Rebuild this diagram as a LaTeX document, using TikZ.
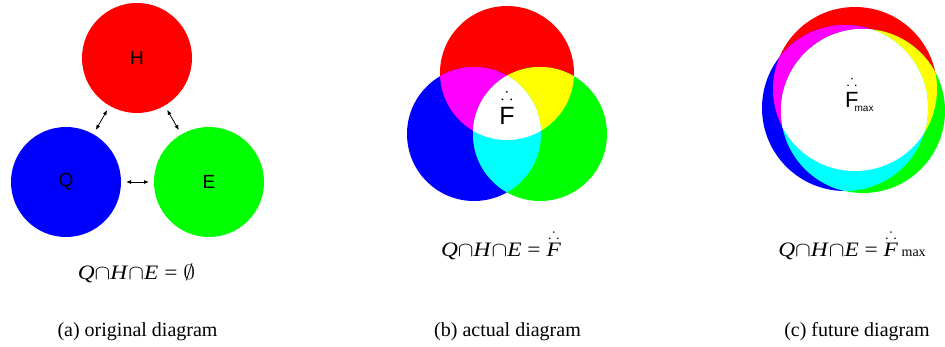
\documentclass[tikz,border=0pt]{standalone}
\usepackage{fontspec}
\setmainfont{Liberation Serif}
\setsansfont{Liberation Sans}
\usepackage{amssymb}
\usetikzlibrary{arrows.meta}
\definecolor{cR}{RGB}{255,0,0}
\definecolor{cG}{RGB}{0,255,0}
\definecolor{cB}{RGB}{0,0,255}
\definecolor{cM}{RGB}{255,0,255}
\definecolor{cY}{RGB}{255,255,0}
\definecolor{cC}{RGB}{0,255,255}
% letter with three dots (therefore sign) above it
\newcommand{\dotted}[2]{$\stackrel{\raisebox{#1}{$\scriptstyle\therefore$}}{\mbox{#2}}$}
\newcommand{\wide}[1]{\scalebox{1.14}[1]{#1}}
\tikzset{
  setnode/.style={circle, minimum size=110pt, inner sep=0pt, outer sep=0pt,
    font=\sffamily\fontsize{19}{19}\selectfont},
  link/.style={{Latex[length=5pt,width=4pt]}-{Latex[length=5pt,width=4pt]},
    line width=0.8pt, shorten <=5pt, shorten >=5pt},
  formula/.style={anchor=base, inner sep=0pt, font=\fontsize{20.5}{20.5}\selectfont},
  caption/.style={anchor=base, inner sep=0pt, font=\fontsize{20}{20}\selectfont},
  bigF/.style={anchor=base, inner sep=0pt, font=\sffamily\fontsize{25}{25}\selectfont},
  maxF/.style={anchor=base west, inner sep=0pt, font=\sffamily\fontsize{22}{22}\selectfont},
}
\begin{document}
\begin{tikzpicture}[x=1pt,y=-1pt]
\useasboundingbox (0,0) rectangle (945,347);
\fill[white] (0,0) rectangle (945,347);

% ---------- (a) original diagram ----------
\node[setnode, fill=cR] (H) at (137,58) {H};
\node[setnode, fill=cB] (Q) at (66,182) {Q};
\node[setnode, fill=cG] (E) at (209,182) {E};
\draw[link] (H) -- (Q);
\draw[link] (H) -- (E);
\draw[link] (Q) -- (E);
\node[formula] (fa) at (136.5,280) {\wide{\textit{Q}$\cap$\textit{H}$\cap$\textit{E} = $\emptyset$}};

% ---------- (b) actual diagram ----------
\coordinate (bR) at (507,73);
\coordinate (bB) at (474,134);
\coordinate (bG) at (540,134);
\fill[cR] (bR) circle (67pt);
\fill[cB] (bB) circle (67pt);
\fill[cG] (bG) circle (67pt);
\begin{scope}
  \clip (bR) circle (67pt);
  \fill[cM] (bB) circle (67pt);
  \fill[cY] (bG) circle (67pt);
\end{scope}
\begin{scope}
  \clip (bB) circle (67pt);
  \fill[cC] (bG) circle (67pt);
  \clip (bR) circle (67pt);
  \fill[white] (bG) circle (67pt);
\end{scope}
\node[bigF] (Fb) at (507,125) {\dotted{3pt}{F}};
\node[formula] (fb) at (501,257) {\wide{\textit{Q}$\cap$\textit{H}$\cap$\textit{E} = \dotted{1pt}{\textit{F}}}};

% ---------- (c) future diagram ----------
\coordinate (cRc) at (855,89);
\coordinate (cBc) at (845,108);
\coordinate (cGc) at (863,111);
\fill[cR] (cRc) circle (82pt);
\fill[cB] (cBc) circle (83pt);
\fill[cG] (cGc) circle (82pt);
\begin{scope}
  \clip (cRc) circle (82pt);
  \fill[cM] (cBc) circle (83pt);
  \fill[cY] (cGc) circle (82pt);
\end{scope}
\begin{scope}
  \clip (cBc) circle (83pt);
  \fill[cC] (cGc) circle (82pt);
  \clip (cRc) circle (82pt);
  \fill[white] (cGc) circle (82pt);
\end{scope}
\node[maxF] (Fc) at (845,108) {\dotted{2.5pt}{F}\kern-4pt\raisebox{-4pt}{\fontsize{10}{10}\selectfont max}};
\node[formula] (fc) at (852,257) {\wide{\textit{Q}$\cap$\textit{H}$\cap$\textit{E} = \dotted{1pt}{\textit{F}}}\,{\fontsize{14}{14}\selectfont max}};

% ---------- captions ----------
\node[caption] (capa) at (137.5,336) {(a) original diagram};
\node[caption] (capb) at (507.5,336) {(b) actual diagram};
\node[caption] (capc) at (857,336) {(c) future diagram};
\end{tikzpicture}
\end{document}
